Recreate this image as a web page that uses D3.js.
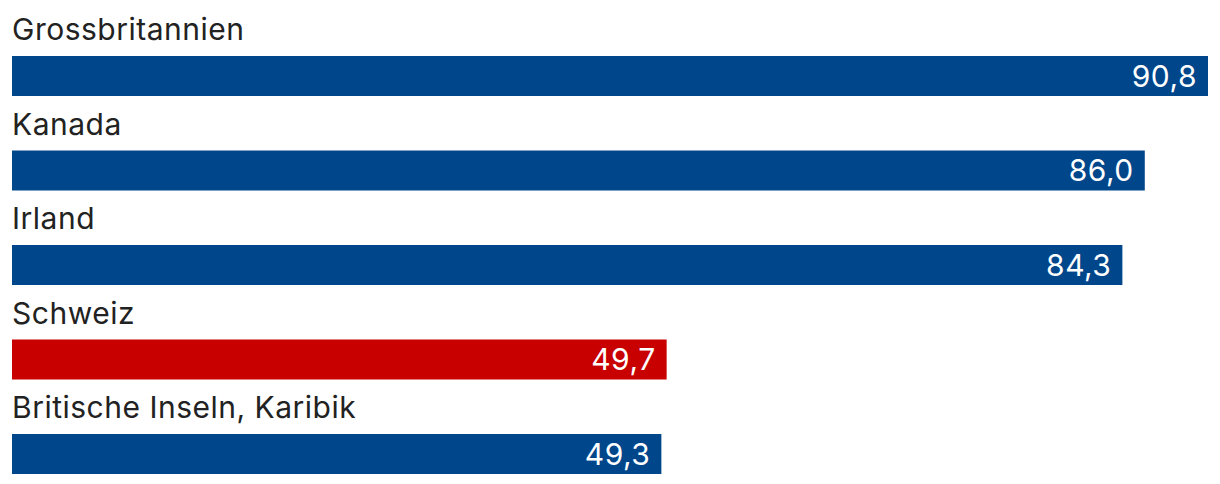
<!DOCTYPE html>
<html><head><meta charset="utf-8">
<script src="https://cdn.jsdelivr.net/npm/d3@7"></script>
<style>html,body{margin:0;padding:0;background:#fff;}svg{display:block;}</style>
</head><body><svg id="c" width="1220" height="484"></svg>
<script>
const categories = ["Grossbritannien","Kanada","Irland","Schweiz","Britische Inseln, Karibik"];
const values = [90.8, 86.0, 84.3, 49.7, 49.3];
const highlight = ["Schweiz"];

const svg = d3.select("#c");
const x = d3.scaleLinear().domain([0, d3.max(values)]).range([12, 1208]);
const y = d3.scaleBand().domain(categories).range([0, 472.5]).paddingInner(0).paddingOuter(0);
const fmt = v => d3.format(".1f")(v).replace(".", ",");

const g = svg.selectAll("g.row").data(categories.map((c,i)=>({c, v: values[i]})))
  .enter().append("g").attr("transform", d => `translate(0,${y(d.c)})`);

g.append("text").attr("x", 12).attr("y", 40)
  .attr("font-family", "Inter, sans-serif").attr("font-size", 30).attr("font-weight", 400)
  .attr("letter-spacing", 0.5)
  .attr("fill", "#222").text(d => d.c);

g.append("rect").attr("x", x(0)).attr("y", 56).attr("height", 40)
  .attr("width", d => x(d.v) - x(0))
  .attr("fill", d => highlight.includes(d.c) ? "#c80000" : "#00468b");

g.append("text").attr("x", d => x(d.v) - 11).attr("y", 86.5)
  .attr("text-anchor", "end")
  .attr("font-family", "Inter, sans-serif").attr("font-size", 30).attr("font-weight", 400)
  .attr("letter-spacing", 0.5)
  .attr("fill", "#fff").text(d => fmt(d.v));
</script></body></html>
